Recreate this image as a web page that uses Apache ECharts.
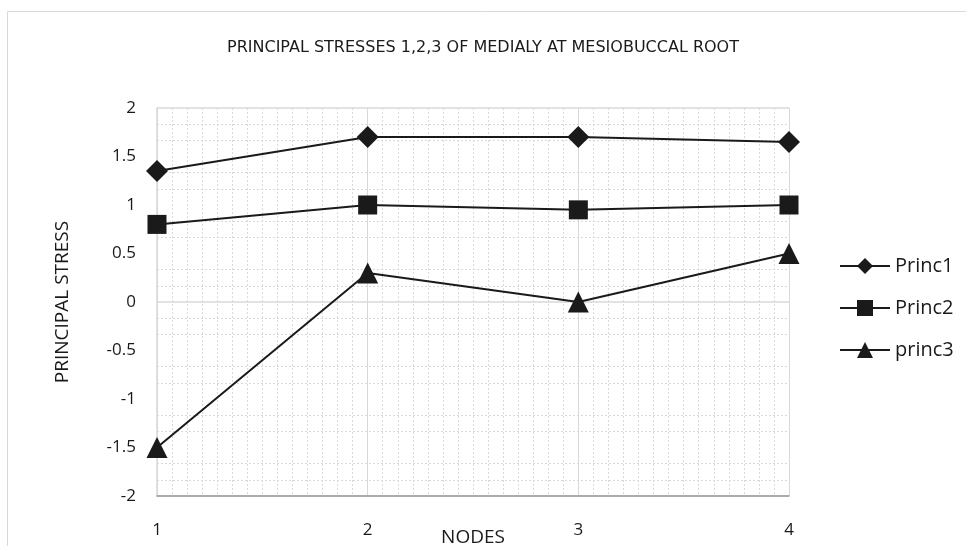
<!DOCTYPE html>
<html><head><meta charset="utf-8">
<script src="https://cdn.jsdelivr.net/npm/echarts@6/dist/echarts.min.js"></script>
<style>html,body{margin:0;padding:0;background:#fff}#c{width:966px;height:546px}</style>
</head><body><div id="c"></div>
<script>
const nodes = [1, 2, 3, 4];
const princ1 = [1.35, 1.70, 1.70, 1.65];
const princ2 = [0.80, 1.00, 0.95, 1.00];
const princ3 = [-1.50, 0.30, 0.00, 0.50];
const seriesNames = ['Princ1', 'Princ2', 'princ3'];
const titleText = 'PRINCIPAL STRESSES 1,2,3 OF MEDIALY AT MESIOBUCCAL ROOT';
const xName = 'NODES';
const yName = 'PRINCIPAL STRESS';

const font = '"Open Sans", sans-serif';
const pair = arr => arr.map((v, i) => [nodes[i], v]);
const mk = (name, data, symbol, size) => ({
  name, type: 'line', data: pair(data), symbol, symbolSize: size,
  lineStyle: { color: '#1a1a1a', width: 2 },
  itemStyle: { color: '#1a1a1a' },
  emphasis: { disabled: true }, animation: false
});
const chart = echarts.init(document.getElementById('c'));
chart.setOption({
  animation: false,
  backgroundColor: '#fff',
  title: { text: titleText, left: 'center', top: 35,
    textStyle: { fontFamily: 'DejaVu Sans', fontSize: 16, fontWeight: 'normal', color: '#1a1a1a' } },
  graphic: [{ type: 'rect', shape: { x: 7.5, y: 11.5, width: 1000, height: 600 },
    style: { fill: 'none', stroke: '#d9d9d9', lineWidth: 1 }, silent: true }],
  legend: { orient: 'vertical', left: 834, top: 251, itemGap: 22, itemWidth: 50, itemHeight: 20,
    data: seriesNames,
    textStyle: { fontFamily: font, fontSize: 20, color: '#1a1a1a' } },
  grid: { left: 157, right: 177, top: 108, bottom: 50, containLabel: false, outerBoundsMode: 'none' },
  xAxis: {
    type: 'value', min: 1, max: 4, interval: 1,
    name: xName, nameLocation: 'middle', nameGap: 32, nameMoveOverlap: false,
    nameTextStyle: { fontFamily: font, fontSize: 19, color: '#1a1a1a', verticalAlign: 'top' },
    axisLine: { onZero: false, lineStyle: { color: '#999', width: 1.5 } },
    axisTick: { show: false },
    axisLabel: { margin: 26, fontFamily: font, fontSize: 17, color: '#1a1a1a' },
    splitLine: { show: true, lineStyle: { color: '#d9d9d9', width: 1 } },
    minorTick: { show: false, splitNumber: 14 },
    minorSplitLine: { show: true, lineStyle: { color: '#d9d9d9', type: [2, 2], width: 1 } }
  },
  yAxis: {
    type: 'value', min: -2, max: 2, interval: 0.5,
    name: yName, nameLocation: 'middle', nameGap: 85,
    nameTextStyle: { fontFamily: font, fontSize: 19, color: '#1a1a1a' },
    axisLine: { show: true, lineStyle: { color: '#d9d9d9', width: 1.5 } },
    axisTick: { show: false },
    axisLabel: { margin: 21, fontFamily: font, fontSize: 17, color: '#1a1a1a' },
    splitLine: { show: true, lineStyle: { color: ['#d9d9d9', 'rgba(0,0,0,0)', 'rgba(0,0,0,0)', 'rgba(0,0,0,0)'], width: 1.5 } },
    minorTick: { show: false, splitNumber: 3 },
    minorSplitLine: { show: true, lineStyle: { color: '#d9d9d9', type: [2, 2], width: 1 } }
  },
  series: [
    mk(seriesNames[0], princ1, 'diamond', 22),
    mk(seriesNames[1], princ2, 'rect', 19),
    mk(seriesNames[2], princ3, 'triangle', 21)
  ]
});
</script></body></html>
